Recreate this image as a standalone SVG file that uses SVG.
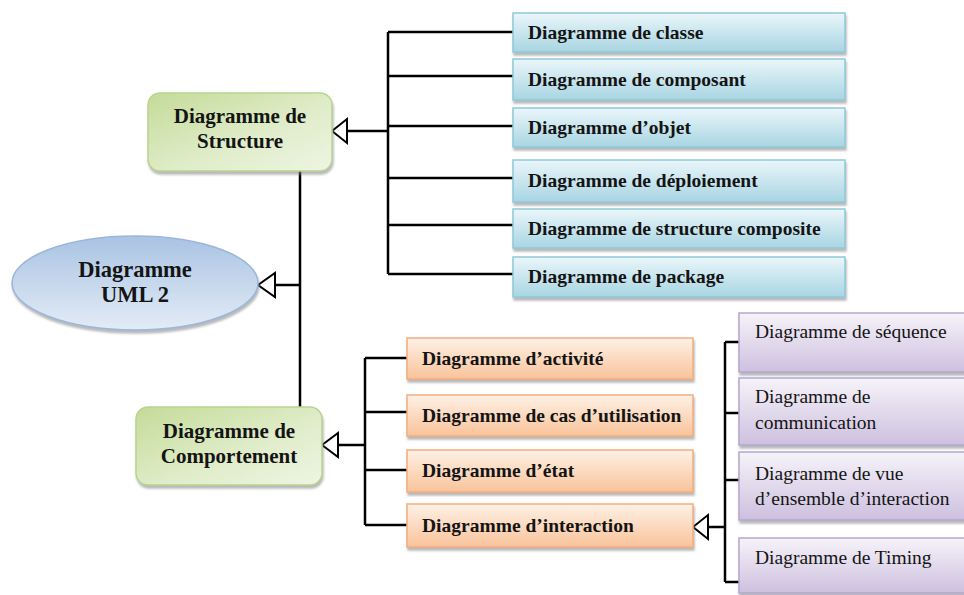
<svg xmlns="http://www.w3.org/2000/svg" width="964" height="595" viewBox="0 0 964 595">
  <defs>
    <linearGradient id="gBlue" x1="0" y1="0" x2="0" y2="1">
      <stop offset="0" stop-color="#eaf6fa"/>
      <stop offset="1" stop-color="#a8d5e2"/>
    </linearGradient>
    <linearGradient id="gOrange" x1="0" y1="0" x2="0" y2="1">
      <stop offset="0" stop-color="#fef1e6"/>
      <stop offset="1" stop-color="#f9c39a"/>
    </linearGradient>
    <linearGradient id="gPurple" x1="0" y1="0" x2="0" y2="1">
      <stop offset="0" stop-color="#f6f3f9"/>
      <stop offset="1" stop-color="#cdc0df"/>
    </linearGradient>
    <linearGradient id="gGreen" x1="0" y1="0" x2="1" y2="1">
      <stop offset="0" stop-color="#c4db98"/>
      <stop offset="0.55" stop-color="#dfecc8"/>
      <stop offset="1" stop-color="#eef5e3"/>
    </linearGradient>
    <linearGradient id="gEllipse" x1="0" y1="0" x2="0" y2="1">
      <stop offset="0" stop-color="#a9c3e3"/>
      <stop offset="1" stop-color="#e3ecf6"/>
    </linearGradient>
    <filter id="shadow" x="-5%" y="-10%" width="115%" height="140%">
      <feDropShadow dx="1" dy="3" stdDeviation="1" flood-color="#808080" flood-opacity="0.55"/>
    </filter>
  </defs>
  <style>
    .blue { fill: url(#gBlue); stroke: #8fc9d9; stroke-width: 1.5; filter: url(#shadow); }
    .orange { fill: url(#gOrange); stroke: #f3ad7c; stroke-width: 1.5; filter: url(#shadow); }
    .purple { fill: url(#gPurple); stroke: #b5a6cf; stroke-width: 1.5; filter: url(#shadow); }
    .green { fill: url(#gGreen); stroke: #b9d38f; stroke-width: 1.5; filter: url(#shadow); }
    .ell { fill: url(#gEllipse); stroke: #9ab6dc; stroke-width: 1.5; filter: url(#shadow); }
    text { font-family: "Liberation Serif", "Times New Roman", serif; fill: #141414; }
    .b { font-weight: bold; font-size: 19.5px; }
    .r { font-size: 19.5px; }
    .big { font-weight: bold; font-size: 21px; text-anchor: middle; }
    .root { font-weight: bold; font-size: 22.5px; text-anchor: middle; }
    .wire { fill: none; stroke: #000; stroke-width: 2.5; }
    .head { fill: #fff; stroke: #000; stroke-width: 2; stroke-linejoin: miter; }
  </style>

  <!-- connectors -->
  <g id="connectors">
    <!-- structure bus -->
    <path class="wire" d="M388 32 V274 M388 32 H513 M388 76 H513 M388 126 H513 M388 178 H513 M388 225 H513 M388 274 H513 M347 131 H388"/>
    <polygon class="head" points="332,131 347,119 347,143"/>
    <!-- root trunk -->
    <path class="wire" d="M300 171 V407 M275 285 H300"/>
    <polygon class="head" points="258,285 275,273 275,297"/>
    <!-- behaviour bus -->
    <path class="wire" d="M365 358 V525 M365 358 H407 M365 412 H407 M365 470 H407 M365 525 H407 M338 445 H365"/>
    <polygon class="head" points="322,445 338,433 338,457"/>
    <!-- interaction bus -->
    <path class="wire" d="M725 342 V582 M725 342 H739 M725 413 H739 M725 480 H739 M725 582 H739 M708 527 H725"/>
    <polygon class="head" points="693,527 708,515 708,539"/>
  </g>

  <!-- root -->
  <g id="uml2">
    <ellipse class="ell" cx="135" cy="283" rx="123" ry="47"/>
    <text class="root" x="135" y="277">Diagramme</text>
    <text class="root" x="135" y="302">UML 2</text>
  </g>

  <!-- main categories -->
  <g id="structure">
    <rect class="green" x="148" y="93" width="184" height="78" rx="12"/>
    <text class="big" x="240" y="123">Diagramme de</text>
    <text class="big" x="240" y="148">Structure</text>
  </g>
  <g id="comportement">
    <rect class="green" x="136" y="407" width="186" height="78" rx="12"/>
    <text class="big" x="229" y="438">Diagramme de</text>
    <text class="big" x="229" y="463">Comportement</text>
  </g>

  <!-- structure diagrams -->
  <g id="classe">
    <rect class="blue" x="513" y="13" width="332" height="39"/>
    <text class="b" x="528" y="39">Diagramme de classe</text>
  </g>
  <g id="composant">
    <rect class="blue" x="513" y="59" width="332" height="41"/>
    <text class="b" x="528" y="85.5">Diagramme de composant</text>
  </g>
  <g id="objet">
    <rect class="blue" x="513" y="108" width="332" height="39"/>
    <text class="b" x="528" y="134">Diagramme d’objet</text>
  </g>
  <g id="deploiement">
    <rect class="blue" x="513" y="160" width="332" height="42"/>
    <text class="b" x="528" y="187">Diagramme de déploiement</text>
  </g>
  <g id="structure-composite">
    <rect class="blue" x="513" y="209" width="332" height="39"/>
    <text class="b" x="528" y="234.5">Diagramme de structure composite</text>
  </g>
  <g id="package">
    <rect class="blue" x="513" y="257" width="332" height="40"/>
    <text class="b" x="528" y="283">Diagramme de package</text>
  </g>

  <!-- behaviour diagrams -->
  <g id="activite">
    <rect class="orange" x="407" y="338" width="286" height="41"/>
    <text class="b" x="422" y="364.5">Diagramme d’activité</text>
  </g>
  <g id="cas-utilisation">
    <rect class="orange" x="407" y="395" width="286" height="41"/>
    <text class="b" x="422" y="421.5">Diagramme de cas d’utilisation</text>
  </g>
  <g id="etat">
    <rect class="orange" x="407" y="450" width="286" height="42"/>
    <text class="b" x="422" y="477">Diagramme d’état</text>
  </g>
  <g id="interaction">
    <rect class="orange" x="407" y="504" width="286" height="43"/>
    <text class="b" x="422" y="531.5">Diagramme d’interaction</text>
  </g>

  <!-- interaction diagrams -->
  <g id="sequence">
    <rect class="purple" x="739" y="313" width="240" height="59"/>
    <text class="r" x="755" y="338">Diagramme de séquence</text>
  </g>
  <g id="communication">
    <rect class="purple" x="739" y="378" width="240" height="67"/>
    <text class="r" x="755" y="403">Diagramme de</text>
    <text class="r" x="755" y="429">communication</text>
  </g>
  <g id="vue-ensemble">
    <rect class="purple" x="739" y="452" width="240" height="68"/>
    <text class="r" x="755" y="480">Diagramme de vue</text>
    <text class="r" x="755" y="505">d’ensemble d’interaction</text>
  </g>
  <g id="timing">
    <rect class="purple" x="739" y="538" width="240" height="55"/>
    <text class="r" x="755" y="564">Diagramme de Timing</text>
  </g>
</svg>
